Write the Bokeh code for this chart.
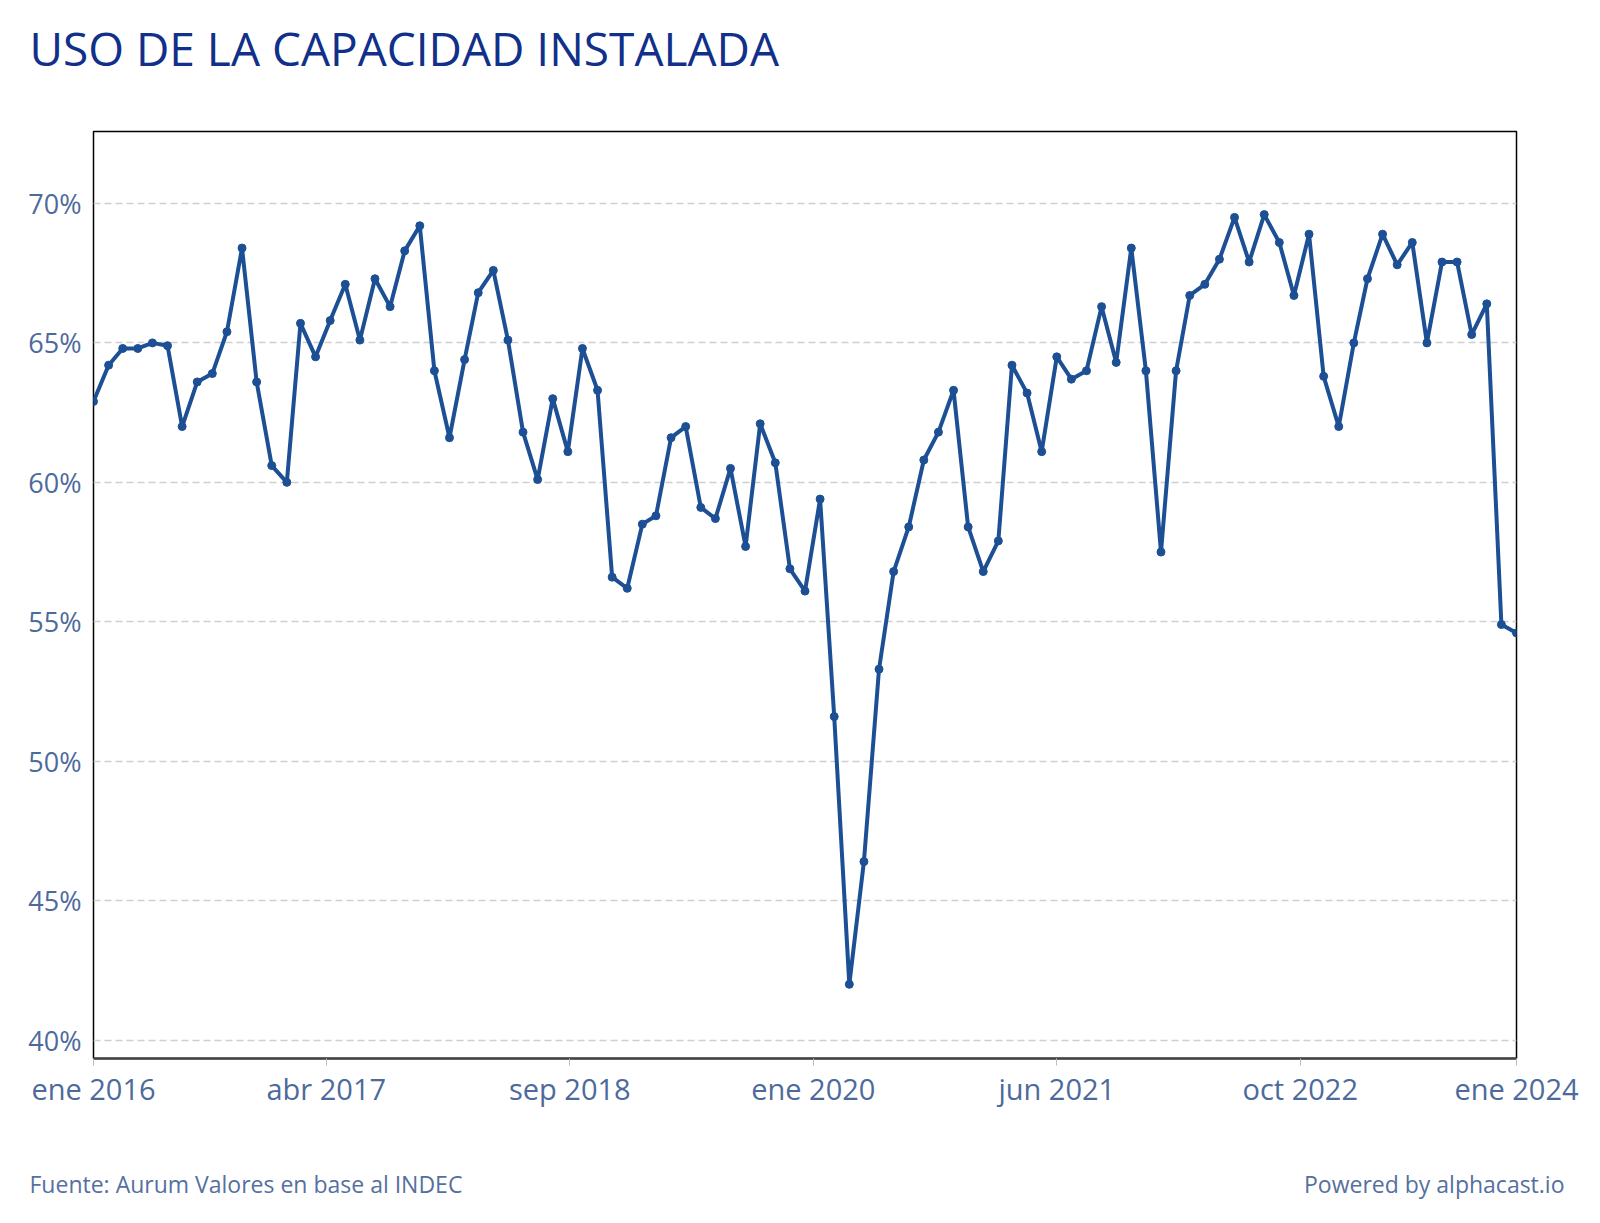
import pandas as pd
from bokeh.plotting import figure
from bokeh.models import (Range1d, FixedTicker, CustomJSTickFormatter, PrintfTickFormatter,
                          Label, ColumnDataSource)
from bokeh.embed import file_html
from bokeh.resources import INLINE

# ---- data ----
start_month = "2016-01-01"
values = [62.9, 64.2, 64.8, 64.8, 65.0, 64.9, 62.0, 63.6, 63.9, 65.4, 68.4, 63.6,
          60.6, 60.0, 65.7, 64.5, 65.8, 67.1, 65.1, 67.3, 66.3, 68.3, 69.2, 64.0,
          61.6, 64.4, 66.8, 67.6, 65.1, 61.8, 60.1, 63.0, 61.1, 64.8, 63.3, 56.6,
          56.2, 58.5, 58.8, 61.6, 62.0, 59.1, 58.7, 60.5, 57.7, 62.1, 60.7, 56.9,
          56.1, 59.4, 51.6, 42.0, 46.4, 53.3, 56.8, 58.4, 60.8, 61.8, 63.3, 58.4,
          56.8, 57.9, 64.2, 63.2, 61.1, 64.5, 63.7, 64.0, 66.3, 64.3, 68.4, 64.0,
          57.5, 64.0, 66.7, 67.1, 68.0, 69.5, 67.9, 69.6, 68.6, 66.7, 68.9, 63.8,
          62.0, 65.0, 67.3, 68.9, 67.8, 68.6, 65.0, 67.9, 67.9, 65.3, 66.4, 54.9,
          54.6]
x_tick_dates = ["2016-01-01", "2017-04-23", "2018-09-05", "2020-01-18",
                "2021-06-01", "2022-10-14", "2024-01-01"]
y_ticks = [40, 45, 50, 55, 60, 65, 70]
title_text = "USO DE LA CAPACIDAD INSTALADA"
source_text = "Fuente: Aurum Valores en base al INDEC"
powered_text = "Powered by alphacast.io"

dates = pd.date_range(start_month, periods=len(values), freq="MS")
src = ColumnDataSource(dict(x=dates, y=values))

FONT = "Open Sans"
LINE = "#1c4f94"
TICKC = "#4d6a9c"
W = 1600


def blank_fig(h):
    f = figure(width=W, height=h, output_backend="svg", toolbar_location=None,
               x_range=Range1d(0, W), y_range=Range1d(h, 0),
               min_border=0, x_axis_location=None, y_axis_location=None)
    f.title.text_font_size = "0px"
    f.title.standoff = 0
    f.grid.grid_line_color = None
    f.outline_line_color = None
    f.background_fill_color = "white"
    f.border_fill_color = "white"
    return f


# ---- header (texts are centred vertically on y) ----
head = blank_fig(126)
head.add_layout(Label(x=29, y=47, text=title_text, text_font=FONT, text_font_size="46px",
                      text_color="#10308a", text_baseline="middle", text_align="left"))

# ---- main chart ----
p = figure(width=W, height=1014, x_axis_type="datetime",
           output_backend="svg", toolbar_location=None,
           x_range=Range1d(pd.Timestamp("2016-01-01"), pd.Timestamp("2024-01-01")),
           y_range=Range1d(39.34, 72.58),
           min_border_left=93, min_border_right=84,
           min_border_top=5, min_border_bottom=82)
p.background_fill_color = "white"
p.border_fill_color = "white"
p.outline_line_color = "black"
p.outline_line_width = 1.5

p.line("x", "y", source=src, line_color=LINE, line_width=4)
p.scatter("x", "y", source=src, size=8, fill_color=LINE, line_color=LINE)

p.xgrid.grid_line_color = None
p.ygrid.grid_line_color = "#cfcfcf"
p.ygrid.grid_line_dash = "7 4"
p.ygrid.grid_line_width = 1.5

p.yaxis.ticker = FixedTicker(ticks=y_ticks)
p.yaxis.formatter = PrintfTickFormatter(format="%d%%")
p.yaxis.axis_line_color = None
p.yaxis.major_tick_line_color = None
p.yaxis.minor_tick_line_color = None
p.yaxis.major_label_text_font = FONT
p.yaxis.major_label_text_font_size = "27px"
p.yaxis.major_label_text_color = TICKC
p.yaxis.major_label_standoff = 6

tick_ms = [pd.Timestamp(d).value / 1e6 for d in x_tick_dates]
p.xaxis.ticker = FixedTicker(ticks=tick_ms)
p.xaxis.formatter = CustomJSTickFormatter(code="""
const m = ['ene','feb','mar','abr','may','jun','jul','ago','sep','oct','nov','dic'];
const d = new Date(tick);
return m[d.getUTCMonth()] + ' ' + d.getUTCFullYear();
""")
p.xaxis.axis_line_color = "#444444"
p.xaxis.axis_line_width = 2.5
p.xaxis.major_tick_line_color = "#bbbbbb"
p.xaxis.major_tick_out = 7
p.xaxis.major_tick_in = 0
p.xaxis.minor_tick_line_color = None
p.xaxis.major_label_text_font = FONT
p.xaxis.major_label_text_font_size = "29px"
p.xaxis.major_label_text_color = TICKC
p.xaxis.major_label_standoff = 3

# ---- footer ----
foot = blank_fig(83)
foot.add_layout(Label(x=29, y=43, text=source_text, text_font=FONT, text_font_size="23px",
                      text_color="#5570a0", text_baseline="middle", text_align="left"))
foot.add_layout(Label(x=1564, y=43, text=powered_text, text_font=FONT, text_font_size="23px",
                      text_color="#5570a0", text_baseline="middle", text_align="right"))

open("out.html", "w").write(file_html([head, p, foot], INLINE))
